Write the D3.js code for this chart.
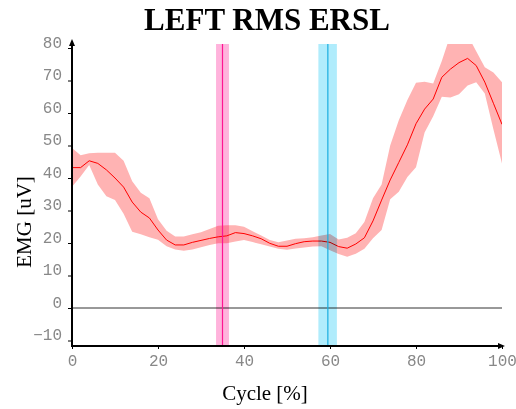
<!DOCTYPE html>
<html>
<head>
<meta charset="utf-8">
<script src="https://cdn.jsdelivr.net/npm/d3@7"></script>
<style>
  body { margin: 0; background: #fff; }
  svg { display: block; }
  .tick text { font-family: "Liberation Mono", monospace; font-size: 16px; fill: #888; }
  .axis-label { font-family: "Liberation Serif", serif; font-size: 21px; fill: #000; }
</style>
</head>
<body>
<svg width="516" height="409"></svg>
<script>
var svg = d3.select("svg");

// cycle positions (%) and EMG values
var cycle = [0,2,4,6,8,10,12,14,16,18,20,22,24,26,28,30,32,34,36,38,40,42,44,46,48,50,
             52,54,56,58,60,62,64,66,68,70,72,74,76,78,80,82,84,86,88,90,92,94,96,98,100];
var meanEmg = [43.2,43.2,45.3,44.5,42.5,40,37.2,32.6,29.5,27.7,24,20.9,19.4,19.4,20.2,20.8,21.4,21.9,22.2,23.2,22.9,22.2,21.3,19.9,19,19,
               19.8,20.4,20.6,20.6,20.2,18.9,18.4,19.7,21.6,26.8,33.2,39.4,44.8,50.2,56.7,61.2,64.3,71,73.5,75.5,76.8,74.6,69.5,63,56.5];
var upperEmg = [49.2,47,47.6,47.8,47.8,47.8,45.3,39,35.5,33.8,27.3,23.8,22,22,22.7,23.3,24.3,25.3,25.5,25.5,25,23.6,22.3,20.9,20.2,20.8,
                21.3,21.5,21.8,22.3,22.8,21.1,21.6,23,26.5,33.8,38,50,57.8,64,69.3,69.6,69.1,76,84,84,84,79,74.1,72.5,69.5];
var lowerEmg = [37.3,40.5,44,38,34.4,33.2,29,23.5,22.7,21.8,21,19,18,17.6,18,18.7,19.4,19.9,19.9,20.5,20.9,20.3,19.6,18.9,18.2,17.9,
                18.3,18.6,18.9,19,17.8,16.6,15.8,16.7,18.2,21.5,24,33.5,35.8,40.3,43.3,54,59,65,64.8,65.8,68.5,69.5,66,55,44.5];

// event markers: [start, line, end] in cycle %
var pinkEvent = [33.5, 35.0, 36.5];
var cyanEvent = [57.3, 59.5, 61.6];

var xTicks = [0, 20, 40, 60, 80, 100];
var yTicks = [-10, 0, 10, 20, 30, 40, 50, 60, 70, 80];

var x = d3.scaleLinear().domain([0, 100]).range([72, 502]);
var y = d3.scaleLinear().domain([-10, 80]).range([340.5, 48]);
var plotTop = 44, plotBottom = 346;

var data = cycle.map((c, i) => ({ c: c, m: meanEmg[i], hi: upperEmg[i], lo: lowerEmg[i] }));

svg.append("defs").append("clipPath").attr("id", "clip")
  .append("rect").attr("x", 72).attr("y", plotTop).attr("width", 430).attr("height", plotBottom - plotTop);

var plot = svg.append("g").attr("clip-path", "url(#clip)");

// std band
plot.append("path")
  .datum(data)
  .attr("fill", "#ffb3b3")
  .attr("d", d3.area().x(d => x(d.c)).y0(d => y(d.lo)).y1(d => y(d.hi)));

// mean line
plot.append("path")
  .datum(data)
  .attr("fill", "none")
  .attr("stroke", "#ff0000")
  .attr("stroke-width", 1)
  .attr("d", d3.line().x(d => x(d.c)).y(d => y(d.m)));

// zero line
svg.append("line")
  .attr("x1", x(0)).attr("x2", x(100))
  .attr("y1", y(0)).attr("y2", y(0))
  .attr("stroke", "#333").attr("stroke-width", 1);

// event bands
function drawEvent(ev, bandColor, lineColor) {
  svg.append("rect")
    .attr("x", x(ev[0])).attr("y", plotTop)
    .attr("width", x(ev[2]) - x(ev[0])).attr("height", plotBottom - plotTop)
    .attr("fill", bandColor)
    .style("mix-blend-mode", "multiply");
  svg.append("line")
    .attr("x1", x(ev[1])).attr("x2", x(ev[1]))
    .attr("y1", plotTop).attr("y2", plotBottom)
    .attr("stroke", lineColor).attr("stroke-width", 1.2);
}
drawEvent(pinkEvent, "#ffb3dc", "#ff1493");
drawEvent(cyanEvent, "#b0ecfc", "#1aaee0");

// axes
var yAxis = svg.append("g")
  .attr("transform", "translate(72,0)")
  .call(d3.axisLeft(y).tickValues(yTicks).tickSize(4).tickPadding(6).tickFormat(d3.format("d")));
yAxis.select(".domain").remove();
yAxis.selectAll(".tick text").attr("dy", "-0.05em");

var xAxis = svg.append("g")
  .attr("transform", "translate(0," + plotBottom + ")")
  .call(d3.axisBottom(x).tickValues(xTicks).tickSize(3).tickPadding(6));
xAxis.select(".domain").remove();

svg.append("line").attr("x1", 72).attr("x2", 72).attr("y1", plotBottom + 1).attr("y2", 42)
  .attr("stroke", "#000").attr("stroke-width", 2);
svg.append("line").attr("x1", 71).attr("x2", 500).attr("y1", plotBottom).attr("y2", plotBottom)
  .attr("stroke", "#000").attr("stroke-width", 2);
svg.append("path").attr("d", "M72,39 L69,46 L75,46 Z").attr("fill", "#000");
svg.append("path").attr("d", "M505,346 L498,343 L498,349 Z").attr("fill", "#000");

// title and labels
svg.append("text")
  .attr("x", 267).attr("y", 30)
  .attr("text-anchor", "middle")
  .style("font-family", "Liberation Serif, serif")
  .style("font-weight", "bold")
  .style("font-size", "31px")
  .text("LEFT RMS ERSL");

svg.append("text")
  .attr("class", "axis-label")
  .attr("transform", "translate(31,222) rotate(-90)")
  .attr("text-anchor", "middle")
  .text("EMG [uV]");

svg.append("text")
  .attr("class", "axis-label")
  .attr("x", 265).attr("y", 400)
  .attr("text-anchor", "middle")
  .text("Cycle [%]");
</script>
</body>
</html>
